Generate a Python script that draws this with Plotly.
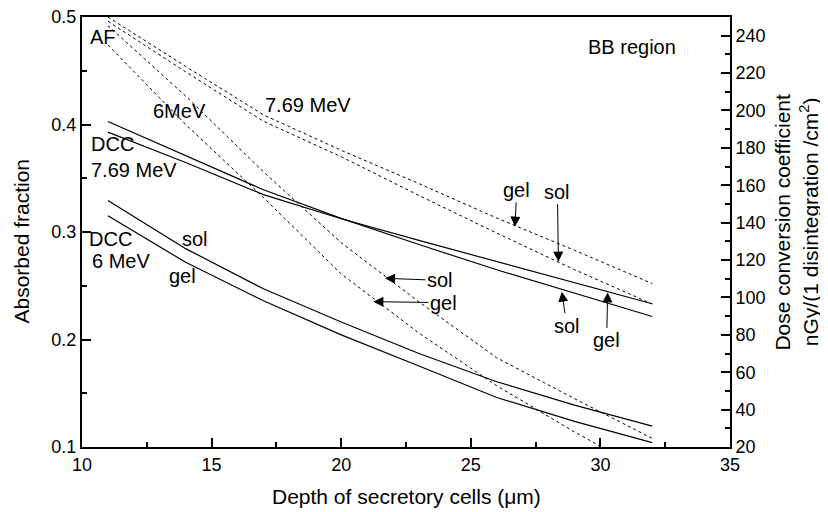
import plotly.graph_objects as go

# ---- data ----
depth = [11, 14, 17, 20, 23, 26, 29, 32]

# Absorbed fraction (left axis) - dotted curves
af_769_gel = [0.500, 0.454, 0.409, 0.376, 0.345, 0.313, 0.283, 0.252]
af_769_sol = [0.496, 0.449, 0.403, 0.370, 0.334, 0.299, 0.265, 0.233]
af_6_sol = [0.492, 0.4265, 0.356, 0.290, 0.235, 0.183, 0.145, 0.108]
af_6_gel = [0.474, 0.400, 0.332, 0.261, 0.206, 0.157, 0.114, 0.074]

# Dose conversion coefficient (right axis) - solid curves
dcc_769_sol = [194.1, 175.9, 157.6, 142.3, 128.3, 114.8, 102.2, 89.8]
dcc_769_gel = [188.4, 172.2, 155.0, 142.1, 130.5, 119.1, 107.8, 96.6]
dcc_6_sol = [151.9, 126.1, 104.6, 86.9, 70.0, 54.9, 42.4, 31.2]
dcc_6_gel = [143.7, 118.8, 98.2, 80.0, 63.3, 46.5, 33.7, 22.3]

x_ticks = [10, 15, 20, 25, 30, 35]
y_ticks = [0.1, 0.2, 0.3, 0.4, 0.5]
y2_ticks = [20, 40, 60, 80, 100, 120, 140, 160, 180, 200, 220, 240]

FONT = "Liberation Sans, Arial, Helvetica, sans-serif"

fig = go.Figure()

for name, ys in [("AF 7.69 MeV gel", af_769_gel), ("AF 7.69 MeV sol", af_769_sol),
                 ("AF 6 MeV sol", af_6_sol), ("AF 6 MeV gel", af_6_gel)]:
    fig.add_trace(go.Scatter(x=depth, y=ys, mode="lines", name=name,
                             line=dict(color="black", width=1, dash="dot")))

for name, ys in [("DCC 7.69 MeV sol", dcc_769_sol), ("DCC 7.69 MeV gel", dcc_769_gel),
                 ("DCC 6 MeV sol", dcc_6_sol), ("DCC 6 MeV gel", dcc_6_gel)]:
    fig.add_trace(go.Scatter(x=depth, y=ys, mode="lines", name=name, yaxis="y2",
                             line=dict(color="black", width=1.2)))

axis_common = dict(showline=True, linewidth=2, linecolor="black", showgrid=False,
                   zeroline=False, ticks="inside", ticklen=9, tickwidth=1.5,
                   tickcolor="black", automargin=False, ticklabeloverflow="allow",
                   tickfont=dict(size=18, family=FONT, color="black"))

# the page body adds an 8px offset, so the figure is 820x504 and margins compensate
fig.update_layout(
    width=820, height=504,
    margin=dict(l=74, r=98, t=9, b=65, autoexpand=False),
    plot_bgcolor="white", paper_bgcolor="white",
    showlegend=False,
    font=dict(family=FONT, color="black", size=20),
    xaxis=dict(range=[10, 35], tickvals=x_ticks, ticktext=[str(v) for v in x_ticks],
               mirror=True,
               minor=dict(ticks="inside", ticklen=5, tickwidth=1.5, tickcolor="black",
                          dtick=2.5, tick0=10),
               **axis_common),
    yaxis=dict(range=[0.1, 0.5], tickvals=y_ticks, ticktext=[str(v) for v in y_ticks],
               minor=dict(ticks="inside", ticklen=5, tickwidth=1.5, tickcolor="black",
                          dtick=0.05, tick0=0.1),
               **axis_common),
    yaxis2=dict(range=[20, 250], overlaying="y", side="right", tickvals=y2_ticks,
                ticktext=[str(v) for v in y2_ticks],
                minor=dict(ticks="inside", ticklen=5, tickwidth=1.5, tickcolor="black",
                           dtick=10, tick0=20),
                **axis_common),
)

# Axis titles
fig.add_annotation(text="Depth of secretory cells (μm)", xref="paper", yref="paper",
                   x=0.5, y=-0.116, xanchor="center", yanchor="middle",
                   showarrow=False, font=dict(size=21))
fig.add_annotation(text="Absorbed fraction", xref="paper", yref="paper",
                   x=-0.094, y=0.478, textangle=-90, xanchor="center", yanchor="middle",
                   showarrow=False, font=dict(size=21))
fig.add_annotation(text="Dose conversion coefficient", xref="paper", yref="paper",
                   x=1.081, y=0.523, textangle=-90, xanchor="center", yanchor="middle",
                   showarrow=False, font=dict(size=21))
fig.add_annotation(text="nGy/(1 disintegration /cm<sup>2</sup>)", xref="paper", yref="paper",
                   x=1.122, y=0.523, textangle=-90, xanchor="center", yanchor="middle",
                   showarrow=False, font=dict(size=21))

# Plain text labels
labels = [
    ("AF", 10.23, 0.4814, "left"),
    ("6MeV", 13.78, 0.4127, "center"),
    ("7.69 MeV", 18.70, 0.4179, "center"),
    ("BB region", 31.21, 0.4719, "center"),
    ("DCC", 10.28, 0.3821, "left"),
    ("7.69 MeV", 10.28, 0.3581, "left"),
    ("DCC", 10.20, 0.2935, "left"),
    ("6 MeV", 10.31, 0.2730, "left"),
    ("sol", 14.36, 0.2938, "center"),
    ("gel", 13.89, 0.2591, "center"),
]
for txt, lx, ly, anc in labels:
    fig.add_annotation(text=txt, x=lx, y=ly, xref="x", yref="y", xanchor=anc,
                       yanchor="middle", showarrow=False, font=dict(size=20))

# Arrow labels (tip at curve, text offset in px)
arrows = [
    ("gel", 26.70, 0.305, "y", 2, -37),
    ("sol", 28.38, 0.2724, "y", -1, -70),
    ("sol", 21.69, 0.2569, "y", 55, 2),
    ("gel", 21.24, 0.2352, "y", 70, 1),
    ("sol", 28.51, 103.1, "y2", 5, 34),
    ("gel", 30.28, 102.7, "y2", -1, 48),
]
for txt, tx, ty, yr, ax, ay in arrows:
    fig.add_annotation(text=txt, x=tx, y=ty, xref="x", yref=yr, showarrow=True,
                       ax=ax, ay=ay, arrowhead=2, arrowsize=2, arrowwidth=1,
                       arrowcolor="black", standoff=0, font=dict(size=20))

fig.write_html("out.html")
